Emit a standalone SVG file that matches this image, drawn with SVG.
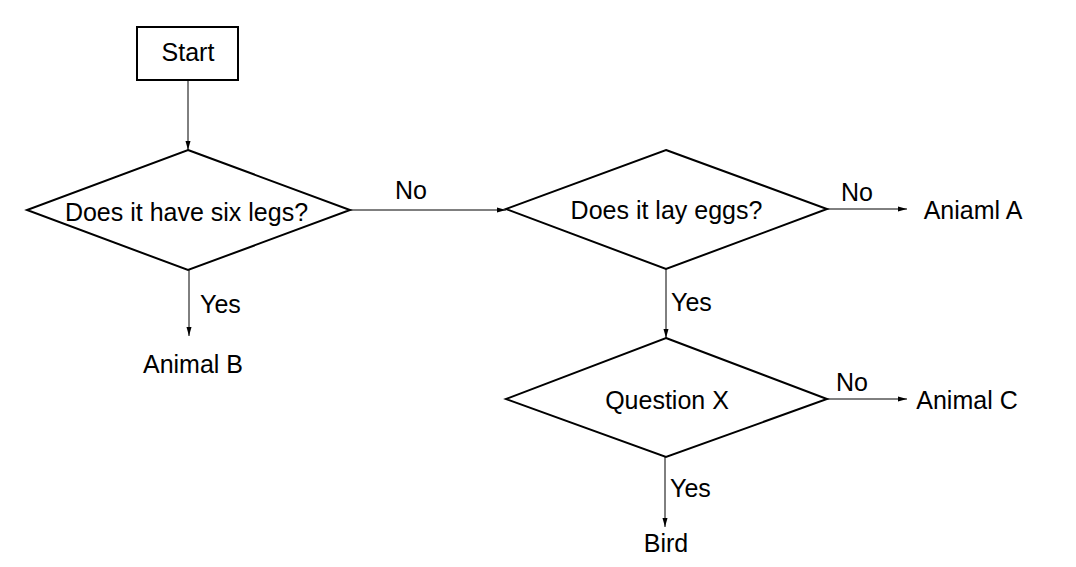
<svg xmlns="http://www.w3.org/2000/svg" width="1076" height="567" viewBox="0 0 1076 567">
<style>
.shape{fill:#fff;stroke:#000;stroke-width:2}
.edge{fill:none;stroke:#000;stroke-width:1}
text{font-family:"Liberation Sans",Arial,sans-serif;font-size:25px;fill:#000}
.c{text-anchor:middle}
</style>
<defs>
<marker id="arr" markerUnits="userSpaceOnUse" markerWidth="10" markerHeight="8" refX="9" refY="4" orient="auto">
<path d="M0,1.5 L9,4 L0,6.5 Z" fill="#000"/>
</marker>
</defs>
<rect width="1076" height="567" fill="#fff"/>
<g id="connectors">
<line class="edge" x1="188" y1="80" x2="188" y2="150" marker-end="url(#arr)"/>
<line class="edge" x1="350" y1="210" x2="506" y2="210" marker-end="url(#arr)"/>
<text x="411" y="199" class="c">No</text>
<line class="edge" x1="189" y1="270" x2="189" y2="336" marker-end="url(#arr)"/>
<text x="200" y="313">Yes</text>
<line class="edge" x1="827" y1="209" x2="907" y2="209" marker-end="url(#arr)"/>
<text x="841" y="201">No</text>
<line class="edge" x1="666" y1="269" x2="666" y2="338" marker-end="url(#arr)"/>
<text x="671" y="311">Yes</text>
<line class="edge" x1="827" y1="399" x2="907" y2="399" marker-end="url(#arr)"/>
<text x="836" y="391">No</text>
<line class="edge" x1="665" y1="457" x2="665" y2="527" marker-end="url(#arr)"/>
<text x="670" y="497">Yes</text>
</g>
<g id="start">
<rect class="shape" x="137" y="27" width="101" height="53"/>
<text x="188" y="61" class="c">Start</text>
</g>
<g id="q1">
<polygon class="shape" points="188,150 350,210 188,270 27,210"/>
<text x="186.5" y="221" class="c">Does it have six legs?</text>
</g>
<g id="q2">
<polygon class="shape" points="666,150 827,209 666,269 506,209"/>
<text x="666.5" y="219" class="c">Does it lay eggs?</text>
</g>
<g id="q3">
<polygon class="shape" points="666,338 827,399 666,457 506,399"/>
<text x="667" y="409" class="c">Question X</text>
</g>
<g id="animalB"><text x="193" y="373" class="c">Animal B</text></g>
<g id="animalA"><text x="973" y="219" class="c">Aniaml A</text></g>
<g id="animalC"><text x="967" y="409" class="c">Animal C</text></g>
<g id="bird"><text x="666" y="552" class="c">Bird</text></g>
</svg>
